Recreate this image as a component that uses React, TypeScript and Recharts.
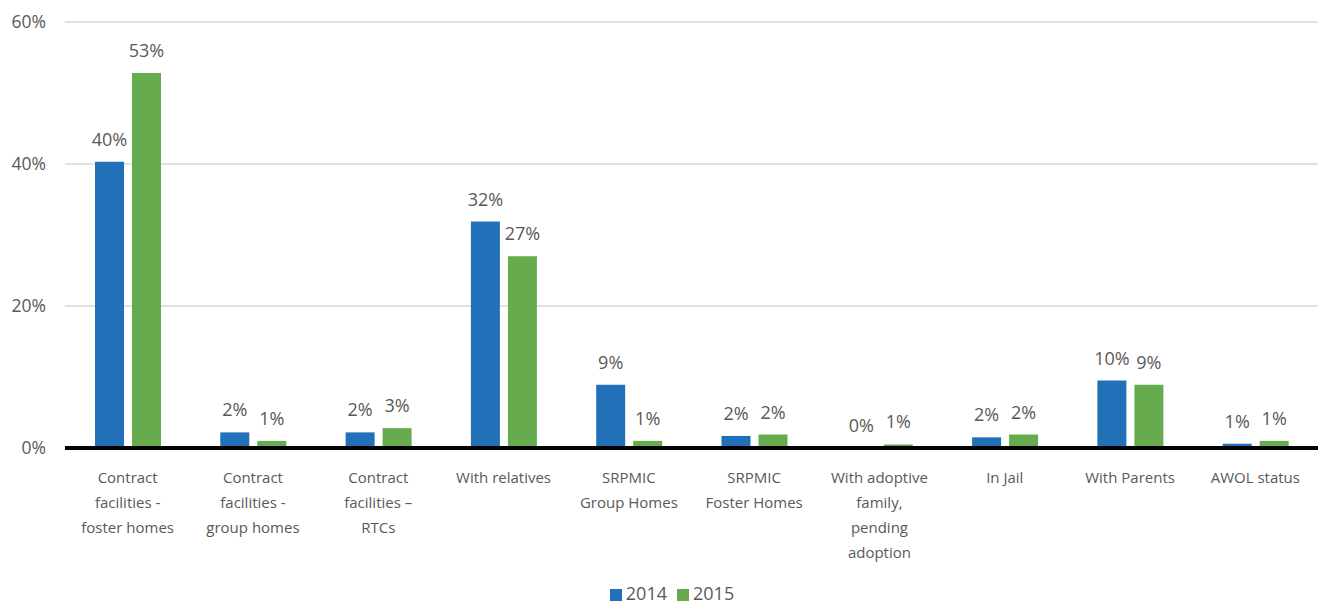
import { Bar, BarChart, CartesianGrid, LabelList, Legend, XAxis, YAxis } from "recharts"

const categories = [
  "Contract\nfacilities -\nfoster homes",
  "Contract\nfacilities -\ngroup homes",
  "Contract\nfacilities –\nRTCs",
  "With relatives",
  "SRPMIC\nGroup Homes",
  "SRPMIC\nFoster Homes",
  "With adoptive\nfamily,\npending\nadoption",
  "In Jail",
  "With Parents",
  "AWOL status",
]

const values2014 = [40.3, 2.2, 2.2, 31.9, 8.9, 1.7, 0.05, 1.5, 9.5, 0.6]
const values2015 = [52.8, 1.0, 2.8, 27.0, 1.0, 1.9, 0.5, 1.9, 8.9, 1.0]

const yTicks = [0, 20, 40, 60]

const data = categories.map((name, i) => ({
  name,
  y2014: values2014[i],
  y2015: values2015[i],
}))

const FONT = "'Open Sans', sans-serif"
const TEXT = "#595959"

function CategoryTick({ x, y, payload }) {
  const lines = String(payload.value).split("\n")
  return (
    <text x={x} y={y} textAnchor="middle" fill={TEXT} fontSize={15} fontFamily={FONT}>
      {lines.map((line, i) => (
        <tspan key={i} x={x} dy={i === 0 ? 27 : 25}>
          {line}
        </tspan>
      ))}
    </text>
  )
}

const pct = (v) => `${Math.round(v)}%`

export default function App() {
  return (
    <div style={{ position: "absolute", left: 0, top: 0, background: "#fff" }}>
      <BarChart
        width={1320}
        height={610}
        data={data}
        margin={{ top: 22, right: 2, bottom: 8, left: 0 }}
        barGap={8}
        barCategoryGap={30}
      >
        <CartesianGrid vertical={false} stroke="#d9d9d9" strokeWidth={1.5} />
        <XAxis
          dataKey="name"
          interval={0}
          height={124}
          tickLine={false}
          axisLine={{ stroke: "#000", strokeWidth: 4 }}
          tick={<CategoryTick />}
        />
        <YAxis
          width={65}
          domain={[0, 60]}
          ticks={yTicks}
          tickFormatter={pct}
          axisLine={false}
          tickLine={false}
          tickSize={0}
          tickMargin={19}
          tick={{ fill: TEXT, fontSize: 17.5, fontFamily: FONT }}
        />
        <Legend
          height={30}
          iconType="square"
          iconSize={12}
          wrapperStyle={{ fontFamily: FONT, fontSize: 18, bottom: -3, paddingLeft: 18, lineHeight: "20px" }}
          formatter={(value) => <span style={{ color: TEXT }}>{value}</span>}
        />
        <Bar dataKey="y2014" name="2014" fill="#2270B8" barSize={29} isAnimationActive={false}>
          <LabelList dataKey="y2014" position="top" offset={16} formatter={pct} fill={TEXT} fontSize={18} fontFamily={FONT} />
        </Bar>
        <Bar dataKey="y2015" name="2015" fill="#66AC4F" barSize={29} isAnimationActive={false}>
          <LabelList dataKey="y2015" position="top" offset={16} formatter={pct} fill={TEXT} fontSize={18} fontFamily={FONT} />
        </Bar>
      </BarChart>
    </div>
  )
}
